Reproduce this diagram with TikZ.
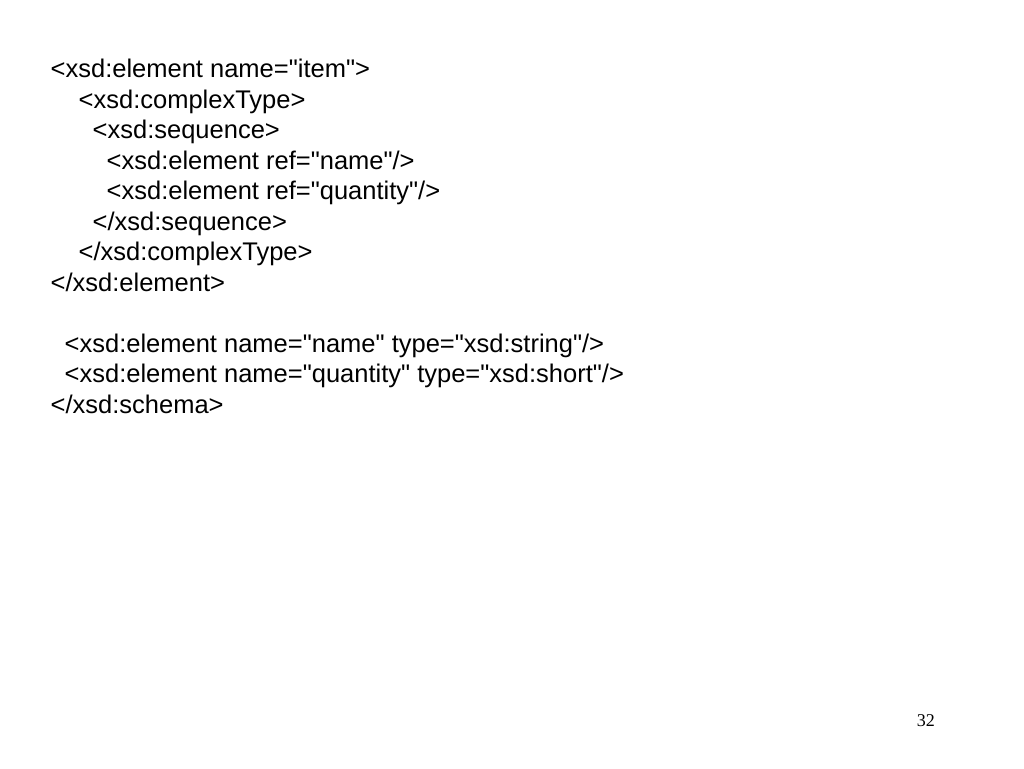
\documentclass[tikz,border=0pt]{standalone}
\usepackage{fontspec}
\setmainfont{Liberation Sans}[Ligatures=TeXOff]
\newfontfamily\serifpn{Liberation Serif}
\begin{document}
\begin{tikzpicture}[x=1pt,y=1pt,
  code/.style={inner sep=0pt, anchor=base west, font=\fontsize{25.5}{30}\selectfont},
  pnum/.style={inner sep=0pt, anchor=base east, font=\serifpn\fontsize{18}{20}\selectfont}]
\fill[white] (0,0) rectangle (1024,-768);
\useasboundingbox (0,0) rectangle (1024,-768);
\node[code] (l1) at (50.5,-77.7) {<xsd:element name="item">};
\node[code] (l2) at (78.5,-108.2) {<xsd:complexType>};
\node[code] (l3) at (92.5,-138.7) {<xsd:sequence>};
\node[code] (l4) at (106.5,-169.2) {<xsd:element ref="name"/>};
\node[code] (l5) at (106.5,-199.7) {<xsd:element ref="quantity"/>};
\node[code] (l6) at (92.5,-230.2) {</xsd:sequence>};
\node[code] (l7) at (78.5,-260.7) {</xsd:complexType>};
\node[code] (l8) at (50.5,-291.2) {</xsd:element>};
\node[code] (l10) at (64.5,-352.2) {<xsd:element name="name" type="xsd:string"/>};
\node[code] (l11) at (64.5,-382.7) {<xsd:element name="quantity" type="xsd:short"/>};
\node[code] (l12) at (50.5,-413.2) {</xsd:schema>};
\node[pnum] (pn) at (935,-726) {32};
\end{tikzpicture}
\end{document}
